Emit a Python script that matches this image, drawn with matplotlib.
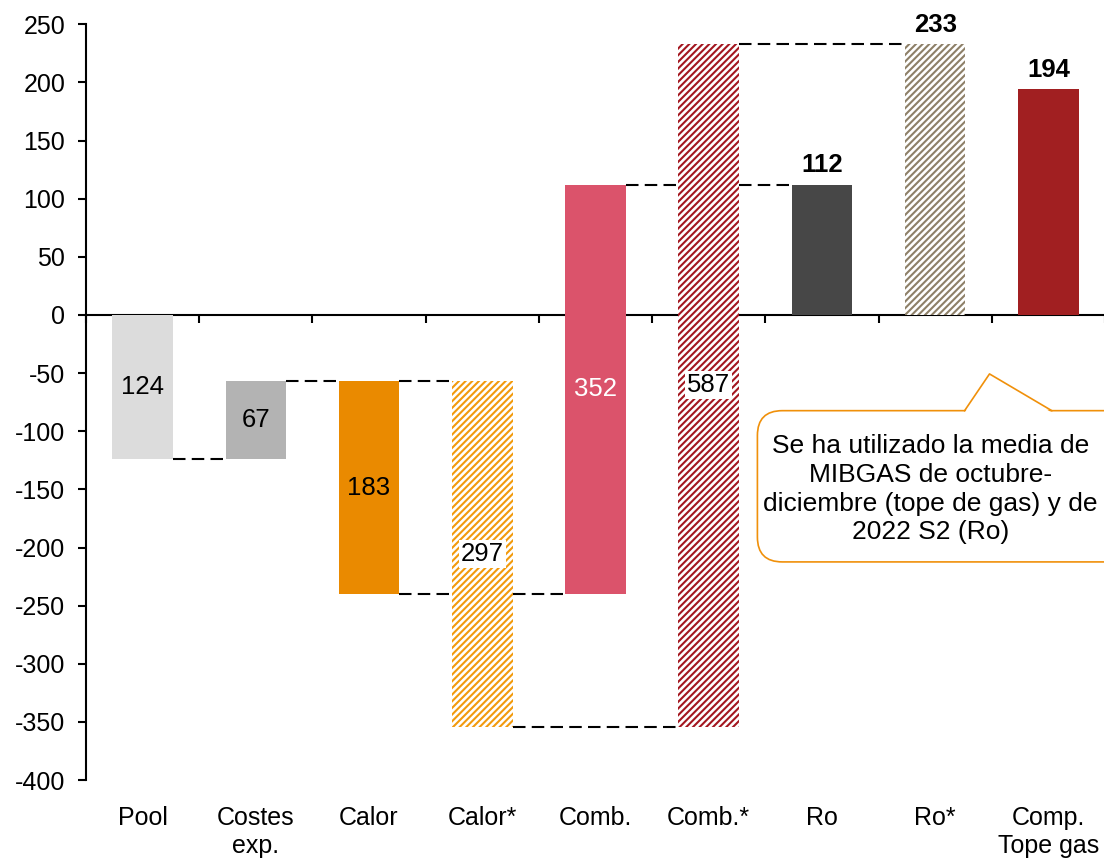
import matplotlib.pyplot as plt
from matplotlib.patches import FancyBboxPatch, Polygon
import numpy as np

plt.rcParams['font.family'] = ['Liberation Sans', 'DejaVu Sans']
plt.rcParams['axes.unicode_minus'] = False
plt.rcParams['hatch.linewidth'] = 1.5
plt.rcParams['font.size'] = 18

# data
categories = ['Pool', 'Costes\nexp.', 'Calor', 'Calor*', 'Comb.', 'Comb.*', 'Ro', 'Ro*', 'Comp.\nTope gas']
starts = [0, -124, -57, -57, -240, -354, 0, 0, 0]
values = [-124, 67, -183, -297, 352, 587, 112, 233, 194]
colors = ['#dcdcdc', '#b3b3b3', '#ea8a00', '#f29a0c', '#db536b', '#a3161f', '#474747', '#8e8068', '#a11f21']
hatched = [False, False, False, True, False, True, False, True, False]
total_bar = [False] * 6 + [True] * 3
# connectors: (from bar, to bar, bar whose end gives the level)
connectors = [(0, 1, 0), (1, 2, 1), (2, 3, 1), (2, 3, 2), (3, 4, 2),
              (3, 5, 3), (4, 5, 4), (5, 6, 4), (5, 7, 5)]
note = "Se ha utilizado la media de\nMIBGAS de octubre-\ndiciembre (tope de gas) y de\n2022 S2 (Ro)"

x = np.arange(len(categories))
ends = np.array(starts) + np.array(values)

fig = plt.figure(figsize=(11.04, 8.6), dpi=100)
ax = fig.add_axes([0.0779, 0.093, 0.923, 0.8787])

w = 0.535
for i in x:
    if hatched[i]:
        ax.bar(i, values[i], bottom=starts[i], width=w, color='white',
               edgecolor=colors[i], hatch='/////', linewidth=0, zorder=2)
    else:
        ax.bar(i, values[i], bottom=starts[i], width=w, color=colors[i],
               linewidth=0, zorder=2)

# value labels
for i in x:
    if total_bar[i]:
        ax.annotate(str(values[i]), (i, ends[i]), xytext=(0, 14), textcoords='offset points',
                    ha='center', va='center', fontweight='bold', fontsize=18.5)
    else:
        box = dict(boxstyle='square,pad=0.08', fc='white', ec='none') if hatched[i] else None
        ax.text(i, starts[i] + values[i] / 2, str(abs(values[i])), ha='center', va='center',
                color='white' if i == 4 else 'black', bbox=box, fontsize=18.5, zorder=4)

# dashed connectors
for a, b, k in connectors:
    ax.plot([a + w / 2, b - w / 2], [ends[k], ends[k]], color='black', lw=1.5,
            dashes=(6, 3), zorder=3)

ax.set_xlim(-0.5, len(categories) - 0.5)
ax.set_ylim(-400, 250)
ax.set_yticks(np.arange(-400, 251, 50))
ax.set_xticks(x, categories)
ax.tick_params(axis='x', length=0, pad=19, labelsize=18)
ax.tick_params(axis='y', length=6, width=1.5, pad=9, labelsize=18)
for s in ['top', 'right', 'bottom']:
    ax.spines[s].set_visible(False)
ax.spines['left'].set_linewidth(1.5)

# zero line with category boundary ticks
sec = ax.secondary_xaxis(0, transform=ax.transData)
sec.set_xticks(np.arange(-0.5, len(categories)), labels=[])
sec.tick_params(direction='out', length=6, width=1.5)
sec.spines['bottom'].set_linewidth(1.5)

# callout
orange = '#f0900a'
bx = FancyBboxPatch((5.43, -212.4), 3.3, 130.1, boxstyle='round,pad=0,rounding_size=0.22',
                    mutation_aspect=97, fc='white', ec=orange, lw=1.2, clip_on=False, zorder=5)
ax.add_patch(bx)
ax.add_patch(Polygon([(7.26, -84), (7.48, -50.7), (8.03, -84)], closed=True, fc='white',
                     ec='none', clip_on=False, zorder=6))
ax.plot([7.26, 7.48, 8.03], [-82.3, -50.7, -82.3], color=orange, lw=1.2, zorder=6, clip_on=False)
ax.text(6.96, -150, note, ha='center', va='center', fontsize=19, linespacing=1.25, zorder=7)

fig.savefig('out.png', dpi=100)
